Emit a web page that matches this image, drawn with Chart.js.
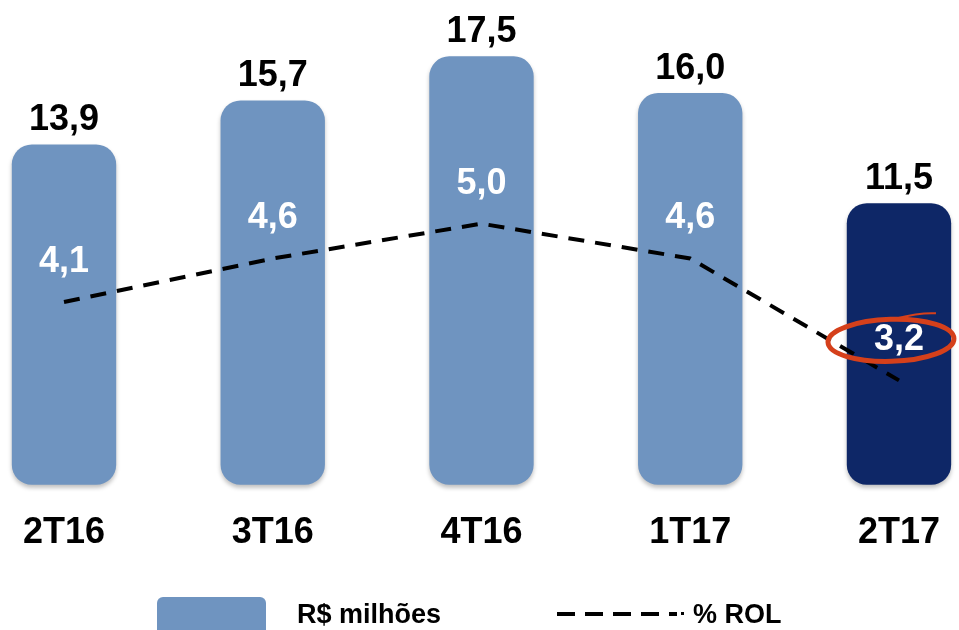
<!DOCTYPE html>
<html>
<head>
<meta charset="utf-8">
<script src="https://cdn.jsdelivr.net/npm/chart.js@4.4.1/dist/chart.umd.min.js"></script>
<style>
    html, body { margin: 0; padding: 0; background: #fff; overflow: hidden; }
    #wrap { position: relative; width: 959px; height: 630px; }
    #legend { position: absolute; left: 0; top: 0; width: 959px; height: 630px; pointer-events: none;
        font-family: "Liberation Sans", Arial, sans-serif; font-weight: bold; color: #000; }
    .box { position: absolute; left: 157px; top: 597px; width: 109px; height: 40px;
        background: #6F94C0; border-radius: 6px; }
    .lbl { position: absolute; font-size: 27px; line-height: 30px; top: 599px; }
    .dash { position: absolute; left: 557px; top: 612px; width: 120px; height: 4px;
        background: repeating-linear-gradient(90deg, #000 0 18px, transparent 18px 28px); }
    .dot { position: absolute; left: 681px; top: 612px; width: 3px; height: 3px; background: #000; }
</style>
</head>
<body>
<div id="wrap">
    <canvas id="graph" width="959" height="630"></canvas>
    <div id="legend">
        <div class="box"></div>
        <div class="lbl" style="left:297px">R$ milhões</div>
        <div class="dash"></div>
        <div class="dot"></div>
        <div class="lbl" style="left:693px">% ROL</div>
    </div>
</div>
<script>
    // Data
    const quarters = ['2T16', '3T16', '4T16', '1T17', '2T17'];
    const receitaMilhoes = [13.9, 15.7, 17.5, 16.0, 11.5];
    const percentRol = [4.1, 4.6, 5.0, 4.6, 3.2];

    const fontFamily = '"Liberation Sans", Arial, sans-serif';
    Chart.defaults.font.family = fontFamily;

    function fmt(v) {
        return v.toFixed(1).replace('.', ',');
    }

    // Shadow under the bars
    const barShadow = {
        id: 'barShadow',
        beforeDatasetDraw(chart, args) {
            if (args.index !== 0) return;
            const ctx = chart.ctx;
            ctx.save();
            ctx.shadowColor = 'rgba(0,0,0,0.25)';
            ctx.shadowBlur = 4;
            ctx.shadowOffsetY = 3;
        },
        afterDatasetDraw(chart, args) {
            if (args.index !== 0) return;
            chart.ctx.restore();
        }
    };

    // Value labels + red circle round the last %
    const valueLabels = {
        id: 'valueLabels',
        afterDatasetsDraw(chart) {
            const ctx = chart.ctx;
            const bars = chart.getDatasetMeta(0).data;
            const points = chart.getDatasetMeta(1).data;
            ctx.save();
            ctx.textAlign = 'center';
            ctx.textBaseline = 'middle';
            ctx.font = 'bold 36px ' + fontFamily;
            ctx.fillStyle = '#000';
            bars.forEach((bar, i) => {
                ctx.fillText(fmt(receitaMilhoes[i]), bar.x, bar.y - 24);
            });
            ctx.fillStyle = '#fff';
            points.forEach((pt, i) => {
                ctx.fillText(fmt(percentRol[i]), bars[i].x, pt.y - 40);
            });
            // the hand drawn ellipse
            const last = points.length - 1;
            const cx = bars[last].x - 8;
            const cy = points[last].y - 40;
            ctx.strokeStyle = '#D5401B';
            ctx.lineWidth = 5;
            ctx.beginPath();
            ctx.ellipse(cx, cy, 63, 21, -0.03, 0, Math.PI * 2);
            ctx.stroke();
            ctx.lineWidth = 2;
            ctx.beginPath();
            ctx.moveTo(cx + 5, cy - 22);
            ctx.quadraticCurveTo(cx + 30, cy - 28, cx + 45, cy - 27);
            ctx.stroke();
            ctx.restore();
        }
    };

    const ctx = document.getElementById('graph').getContext('2d');
    new Chart(ctx, {
        type: 'bar',
        data: {
            labels: quarters,
            datasets: [
                {
                    label: 'R$ milhões',
                    data: receitaMilhoes,
                    backgroundColor: c => c.dataIndex === quarters.length - 1 ? '#0E2767' : '#6F94C0',
                    borderRadius: 20,
                    borderSkipped: false,
                    barPercentage: 0.5,
                    categoryPercentage: 1,
                    clip: false,
                    yAxisID: 'y',
                    order: 1
                },
                {
                    type: 'line',
                    label: '% ROL',
                    data: percentRol,
                    borderColor: '#000',
                    borderWidth: 4,
                    borderDash: [16, 11],
                    pointRadius: 0,
                    fill: false,
                    tension: 0,
                    clip: false,
                    yAxisID: 'y2',
                    order: 0
                }
            ]
        },
        options: {
            responsive: false,
            animation: false,
            events: [],
            layout: {
                padding: { left: 64, right: 56, top: 0, bottom: 56 }
            },
            plugins: {
                legend: { display: false },
                tooltip: { enabled: false }
            },
            scales: {
                x: {
                    offset: false,
                    grid: { display: false },
                    border: { display: false },
                    ticks: {
                        padding: 19,
                        color: '#000',
                        font: { size: 36, weight: 'bold' },
                        autoSkip: false,
                        maxRotation: 0
                    }
                },
                y: {
                    display: false,
                    min: 0,
                    max: 19.8
                },
                y2: {
                    display: false,
                    min: 2.0,
                    max: 7.57
                }
            }
        },
        plugins: [barShadow, valueLabels]
    });
</script>
</body>
</html>
